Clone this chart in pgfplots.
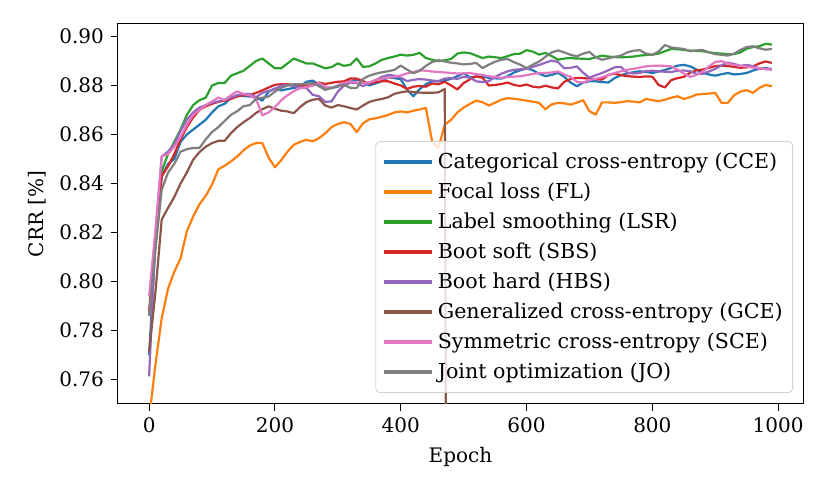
\documentclass[border=0pt]{standalone}
\usepackage{fontspec}
\setmainfont{DejaVu Serif}
\usepackage{pgfplots}
\usepackage{pgfplotstable}
\pgfplotsset{compat=1.18}
\definecolor{c0}{RGB}{31,119,180}
\definecolor{c1}{RGB}{255,127,14}
\definecolor{c2}{RGB}{44,160,44}
\definecolor{c3}{RGB}{214,39,40}
\definecolor{c4}{RGB}{148,103,189}
\definecolor{c5}{RGB}{140,86,75}
\definecolor{c6}{RGB}{227,119,194}
\definecolor{c7}{RGB}{127,127,127}
\pgfplotstableread{
e cce fl lsr sbs hbs gce sce jo
0 0.770 0.744 0.786 0.788 0.7613 0.7715 0.794 0.786
10 0.815 0.766 0.818 0.817 0.819 0.7955 0.821 0.813
20 0.843 0.785 0.845 0.843 0.851 0.8253 0.851 0.8375
30 0.848 0.797 0.852 0.847 0.853 0.830 0.852 0.8444
40 0.850 0.804 0.857 0.852 0.856 0.8345 0.855 0.848
50 0.857 0.8095 0.862 0.858 0.8615 0.840 0.859 0.853
60 0.860 0.8205 0.868 0.863 0.866 0.8445 0.864 0.854
70 0.862 0.8265 0.872 0.867 0.869 0.8497 0.868 0.8545
80 0.864 0.8315 0.874 0.870 0.871 0.8528 0.870 0.8545
90 0.866 0.835 0.875 0.8715 0.872 0.855 0.872 0.858
100 0.869 0.8395 0.880 0.8725 0.873 0.8565 0.8735 0.861
110 0.8715 0.8458 0.881 0.8733 0.8735 0.8574 0.8751 0.863
120 0.8725 0.8472 0.881 0.8738 0.8742 0.8574 0.874 0.8655
130 0.875 0.849 0.884 0.8745 0.875 0.8605 0.876 0.868
140 0.876 0.851 0.885 0.8755 0.876 0.863 0.8776 0.8695
150 0.8757 0.8535 0.886 0.876 0.8765 0.865 0.8765 0.8715
160 0.8755 0.8555 0.888 0.876 0.8765 0.8667 0.876 0.872
170 0.8752 0.8565 0.890 0.877 0.8752 0.8688 0.8745 0.8745
180 0.8738 0.8565 0.891 0.878 0.877 0.8703 0.8678 0.875
190 0.8775 0.8505 0.889 0.8792 0.8778 0.8715 0.869 0.8755
200 0.8788 0.8466 0.887 0.8803 0.8785 0.8705 0.8712 0.8775
210 0.878 0.8495 0.887 0.8805 0.880 0.8697 0.874 0.879
220 0.8785 0.853 0.889 0.8805 0.8802 0.8694 0.876 0.880
230 0.879 0.8558 0.891 0.8802 0.8798 0.8687 0.8777 0.8805
240 0.8796 0.857 0.890 0.8798 0.8792 0.8712 0.8789 0.8805
250 0.8815 0.8578 0.889 0.8796 0.879 0.8732 0.8793 0.8807
260 0.882 0.8572 0.889 0.8802 0.8762 0.8742 0.8799 0.881
270 0.8804 0.8585 0.888 0.8812 0.8756 0.8745 0.881 0.8797
280 0.8792 0.8605 0.887 0.8806 0.8733 0.8718 0.8795 0.8782
290 0.879 0.863 0.8875 0.8811 0.8735 0.871 0.8789 0.879
300 0.8795 0.8643 0.889 0.8815 0.8775 0.872 0.8801 0.8797
310 0.8808 0.865 0.888 0.8817 0.880 0.8715 0.881 0.8803
320 0.8818 0.8643 0.8885 0.8829 0.8812 0.8708 0.8817 0.879
330 0.8823 0.861 0.891 0.8828 0.881 0.8702 0.8812 0.879
340 0.8817 0.8645 0.8876 0.8818 0.8797 0.8718 0.881 0.8827
350 0.880 0.8662 0.8878 0.8806 0.881 0.8733 0.8813 0.884
360 0.8808 0.8666 0.889 0.8814 0.8822 0.874 0.8822 0.8848
370 0.8818 0.8672 0.8905 0.8817 0.8835 0.8745 0.8828 0.8854
380 0.8833 0.868 0.8912 0.8817 0.8843 0.8752 0.8831 0.8858
390 0.883 0.869 0.8918 0.8808 0.884 0.8766 0.8836 0.8864
400 0.8825 0.8694 0.8926 0.880 0.8832 0.8772 0.8841 0.8881
410 0.8783 0.869 0.8922 0.8786 0.8818 0.8776 0.8849 0.8865
420 0.8756 0.8697 0.8925 0.8795 0.8823 0.8773 0.8855 0.885
430 0.8785 0.8702 0.8933 0.8798 0.8826 0.8771 0.8862 0.886
440 0.8805 0.8708 0.8912 0.8795 0.8824 0.877 0.886 0.888
450 0.8817 0.857 0.8905 0.8808 0.882 0.877 0.8857 0.8896
460 0.8817 0.8545 0.8899 0.8805 0.8818 0.8772 0.8855 0.8903
470 0.882 0.864 0.8903 0.8815 0.8828 0.8786 0.8853 0.8898
480 0.8827 0.866 0.8908 0.880 0.883 0.10 0.8851 0.8893
490 0.8838 0.869 0.893 0.8784 0.8827 nan 0.8849 0.889
500 0.885 0.871 0.8935 0.881 0.8835 nan 0.8849 0.8886
510 0.8833 0.8725 0.8932 0.8825 0.8832 nan 0.8851 0.8888
520 0.8836 0.8738 0.8922 0.8838 0.8817 nan 0.8846 0.8892
530 0.8837 0.8732 0.8912 0.8831 0.8814 nan 0.8843 0.8871
540 0.8831 0.8718 0.8918 0.880 0.8818 nan 0.8838 0.8885
550 0.8829 0.873 0.8915 0.8802 0.8835 nan 0.8834 0.8897
560 0.8828 0.8742 0.8912 0.8806 0.8848 nan 0.8831 0.8905
570 0.8838 0.8748 0.892 0.8812 0.8858 nan 0.8834 0.8908
580 0.8853 0.8746 0.8928 0.8802 0.8864 nan 0.8836 0.8895
590 0.8862 0.8742 0.893 0.8798 0.8866 nan 0.8838 0.8885
600 0.8871 0.8738 0.8944 0.8804 0.8867 nan 0.8842 0.8871
610 0.8862 0.8734 0.8938 0.8795 0.8876 nan 0.8847 0.8885
620 0.8848 0.8729 0.8926 0.8792 0.8884 nan 0.8851 0.8898
630 0.8838 0.8703 0.8933 0.8799 0.8893 nan 0.8851 0.8917
640 0.8843 0.8723 0.892 0.8792 0.8902 nan 0.8853 0.8935
650 0.8852 0.8729 0.8905 0.8788 0.8895 nan 0.8857 0.8943
660 0.8835 0.8727 0.891 0.8815 0.887 nan 0.8845 0.8935
670 0.8812 0.8722 0.8912 0.8826 0.8872 nan 0.8835 0.8925
680 0.8797 0.873 0.891 0.8831 0.8878 nan 0.8815 0.8919
690 0.8812 0.874 0.8909 0.883 0.8852 nan 0.8812 0.893
700 0.8817 0.8695 0.8908 0.8828 0.8832 nan 0.8822 0.8937
710 0.8817 0.8681 0.8915 0.8826 0.8842 nan 0.8827 0.8915
720 0.8814 0.8731 0.8922 0.8824 0.8851 nan 0.8834 0.8905
730 0.8812 0.8731 0.8918 0.8843 0.8862 nan 0.8842 0.8911
740 0.883 0.8729 0.8916 0.8848 0.8874 nan 0.8851 0.8917
750 0.8842 0.8732 0.8915 0.8842 0.8876 nan 0.8858 0.8922
760 0.8849 0.8736 0.8916 0.8838 0.8852 nan 0.8864 0.8935
770 0.8854 0.8734 0.8918 0.8836 0.8849 nan 0.8868 0.8942
780 0.8858 0.8731 0.8922 0.8835 0.8851 nan 0.8873 0.8944
790 0.8855 0.8745 0.8924 0.8837 0.8859 nan 0.8878 0.893
800 0.8851 0.874 0.8926 0.8836 0.886 nan 0.888 0.8925
810 0.8857 0.8736 0.893 0.8802 0.8858 nan 0.8881 0.8939
820 0.8863 0.8742 0.894 0.8792 0.8856 nan 0.888 0.8965
830 0.8872 0.875 0.8949 0.8822 0.8855 nan 0.8878 0.8955
840 0.8881 0.8756 0.8948 0.883 0.886 nan 0.8865 0.8952
850 0.8884 0.8745 0.8945 0.8835 0.8861 nan 0.8849 0.8949
860 0.8878 0.8752 0.8942 0.8852 0.8858 nan 0.8835 0.894
870 0.8865 0.8763 0.8941 0.8862 0.8848 nan 0.8843 0.8943
880 0.8851 0.8765 0.894 0.8865 0.8848 nan 0.8856 0.8945
890 0.8845 0.8767 0.8935 0.8872 0.8857 nan 0.8878 0.8935
900 0.884 0.877 0.8932 0.8879 0.8868 nan 0.8896 0.8928
910 0.8846 0.8729 0.893 0.8881 0.8882 nan 0.8899 0.8925
920 0.8851 0.8729 0.8928 0.8879 0.8893 nan 0.889 0.8922
930 0.8845 0.876 0.8928 0.8876 0.8888 nan 0.8884 0.893
940 0.8847 0.8775 0.8935 0.8872 0.888 nan 0.888 0.8945
950 0.8851 0.8781 0.895 0.8874 0.8884 nan 0.8877 0.8957
960 0.8861 0.877 0.8957 0.8878 0.8879 nan 0.8873 0.896
970 0.8868 0.879 0.896 0.889 0.887 nan 0.887 0.8952
980 0.8871 0.8802 0.897 0.8898 0.8867 nan 0.8867 0.8946
990 0.8867 0.8797 0.8967 0.8892 0.8865 nan 0.8865 0.8949
}\data
\begin{document}
\begin{tikzpicture}
\begin{axis}[
  name=ax,
  scale only axis,
  width=342.5pt, height=190pt,
  xmin=-49.5, xmax=1039.5,
  ymin=0.75, ymax=0.9051,
  xtick={0,200,400,600,800,1000},
  ytick={0.76,0.78,0.80,0.82,0.84,0.86,0.88,0.90},
  xticklabel style={/pgf/number format/.cd,1000 sep={}},
  yticklabel style={/pgf/number format/.cd,fixed,fixed zerofill,precision=2},
  /pgf/number format/assume math mode=true,
  xtick pos=bottom, ytick pos=left,
  tick align=outside,
  major tick length=3.5pt,
  every tick/.style={black, line width=0.5pt},
  axis line style={line width=0.5pt},
  tick label style={font=\fontsize{10}{12}\selectfont},
  label style={font=\fontsize{10}{12}\selectfont},
  xlabel={Epoch},
  ylabel={CRR [\%]},
  unbounded coords=jump,
  every axis plot/.append style={line width=1.1pt, line join=round},
  legend cell align=left,
  legend image code/.code={\draw[line width=2pt] (0pt,0pt) -- (24pt,0pt);},
  legend style={
    at={(rel axis cs:1,0)}, anchor=south east,
    xshift=-5pt, yshift=5.5pt,
    draw=black!18, rounded corners=2pt,
    fill=white, fill opacity=0.8, text opacity=1,
    font=\fontsize{10.3}{12}\selectfont,
    row sep=1.7pt, inner xsep=3pt, inner ysep=3.5pt,
  },
]
\addplot[c0] table[x=e,y=cce]{\data};
\addlegendentry{Categorical cross-entropy (CCE)}
\addplot[c1] table[x=e,y=fl]{\data};
\addlegendentry{Focal loss (FL)}
\addplot[c2] table[x=e,y=lsr]{\data};
\addlegendentry{Label smoothing (LSR)}
\addplot[c3] table[x=e,y=sbs]{\data};
\addlegendentry{Boot soft (SBS)}
\addplot[c4] table[x=e,y=hbs]{\data};
\addlegendentry{Boot hard (HBS)}
\addplot[c5] table[x=e,y=gce]{\data};
\addlegendentry{Generalized cross-entropy (GCE)}
\addplot[c6] table[x=e,y=sce]{\data};
\addlegendentry{Symmetric cross-entropy (SCE)}
\addplot[c7] table[x=e,y=jo]{\data};
\addlegendentry{Joint optimization (JO)}
\end{axis}
\pgfresetboundingbox
\path[use as bounding box] ([shift={(-59pt,-47pt)}]ax.south west) rectangle ([shift={(13.5pt,12pt)}]ax.north east);
\end{tikzpicture}
\end{document}
